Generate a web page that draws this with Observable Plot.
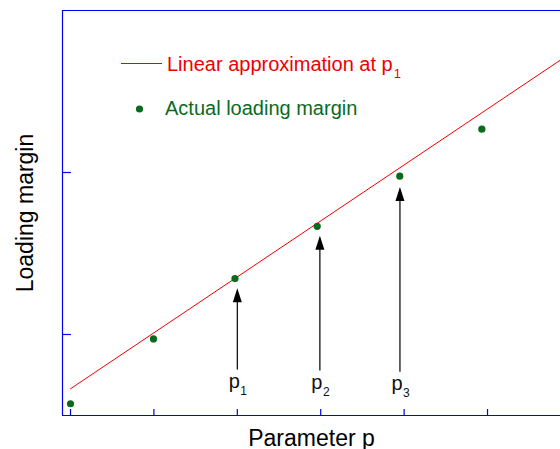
<!DOCTYPE html>
<html>
<head>
<meta charset="utf-8">
<script src="https://cdn.jsdelivr.net/npm/d3@7"></script>
<script src="https://cdn.jsdelivr.net/npm/@observablehq/plot@0.6"></script>
<style>
  html, body { margin: 0; padding: 0; background: #fff; overflow: hidden; }
  svg { display: block; }
</style>
</head>
<body>
<div id="chart"></div>
<script>
// ---- data ----
const pointX = [1, 1.995, 2.972, 3.958, 4.948, 5.932];
const pointY = [0.29, 1.89, 3.38, 4.67, 5.91, 7.07];
const lineX = [1, 7];
const lineY = [0.66, 8.95];
const arrowX = [3.0, 3.99, 4.95];
const arrowTail = [1.2, 1.17, 1.14];
const arrowTip = [3.14, 4.44, 5.64];
const arrowLabel = ["p", "p", "p"];
const arrowSub = ["1", "2", "3"];
const xTicks = [1, 2, 3, 4, 5, 6];
const yTicks = [2, 6];
const xDomain = [0.904, 6.875];
const yDomain = [0, 10];
const xTitle = "Parameter p";
const yTitle = "Loading margin";
const legendLine = "Linear approximation at p";
const legendLineSub = "1";
const legendDot = "Actual loading margin";

const BLUE = "#0000ee", RED = "#ee0000", GREEN = "#0a6b1e";
const FONT = "'Liberation Sans', Arial, Helvetica, sans-serif";

const points = pointX.map((x, i) => ({x, y: pointY[i]}));
const line = lineX.map((x, i) => ({x, y: lineY[i]}));
const arrows = arrowX.map((x, i) => ({x, tail: arrowTail[i], tip: arrowTip[i], label: arrowLabel[i], sub: arrowSub[i]}));

const headSymbol = {
  draw(ctx) {
    ctx.moveTo(0, 0);
    ctx.lineTo(4.5, 14);
    ctx.lineTo(-4.5, 14);
    ctx.closePath();
  }
};

const plot = Plot.plot({
  width: 560,
  height: 449,
  marginLeft: 62,
  marginRight: 0,
  marginTop: 10,
  marginBottom: 34,
  style: {fontFamily: FONT, background: "#fff"},
  x: {domain: xDomain, axis: null},
  y: {domain: yDomain, axis: null},
  marks: [
    Plot.line(line, {x: "x", y: "y", stroke: RED, strokeWidth: 1, clip: true}),
    Plot.ruleX(arrows, {x: "x", y1: "tail", y2: "tip", stroke: "black", strokeWidth: 1.2, dy: 3}),
    Plot.dot(arrows, {x: "x", y: "tip", symbol: headSymbol, fill: "black", stroke: null}),
    Plot.dot(points, {x: "x", y: "y", r: 3.6, fill: GREEN, stroke: null}),
    Plot.text(arrows, {x: "x", y: "tail", text: "label", dx: -3, dy: 21, lineAnchor: "bottom", textAnchor: "middle", fontSize: 20, fill: "#111"}),
    Plot.text(arrows, {x: "x", y: "tail", text: "sub", dx: 3, dy: 28, lineAnchor: "bottom", textAnchor: "start", fontSize: 12, fill: "#111"}),
    Plot.ruleY([yDomain[0], yDomain[1]], {stroke: BLUE, strokeWidth: 1.2}),
    Plot.ruleX([xDomain[0]], {stroke: BLUE, strokeWidth: 1.2}),
    Plot.axisX({ticks: xTicks, tickSize: -6, tickFormat: () => "", stroke: BLUE, strokeWidth: 1.2, label: null}),
    Plot.axisY({ticks: yTicks, tickSize: -9, tickFormat: () => "", stroke: BLUE, strokeWidth: 1.2, label: null}),
    Plot.text([xTitle], {frameAnchor: "bottom", text: d => d, dy: 30, lineAnchor: "bottom", textAnchor: "middle", fontSize: 23, fill: "#000"}),
    Plot.text([yTitle], {frameAnchor: "left", text: d => d, dx: -30, rotate: -90, lineAnchor: "bottom", textAnchor: "middle", fontSize: 23, fill: "#000"})
  ]
});

document.getElementById("chart").appendChild(plot);

// legend (inside the plot area)
const svg = d3.select(plot);
const lg = svg.append("g").attr("font-family", FONT).attr("text-anchor", "start");
lg.append("line").attr("x1", 121).attr("x2", 162).attr("y1", 63.5).attr("y2", 63.5)
  .attr("stroke", RED).attr("stroke-width", 1);
const t1 = lg.append("text").attr("x", 167).attr("y", 70.5).attr("fill", RED).attr("font-size", 20);
t1.append("tspan").text(legendLine);
t1.append("tspan").attr("dy", 7).attr("dx", 1).attr("font-size", 13).text(legendLineSub);
lg.append("circle").attr("cx", 139.5).attr("cy", 109).attr("r", 3.6).attr("fill", GREEN);
lg.append("text").attr("x", 165).attr("y", 115).attr("fill", GREEN).attr("font-size", 20).text(legendDot);
</script>
</body>
</html>
